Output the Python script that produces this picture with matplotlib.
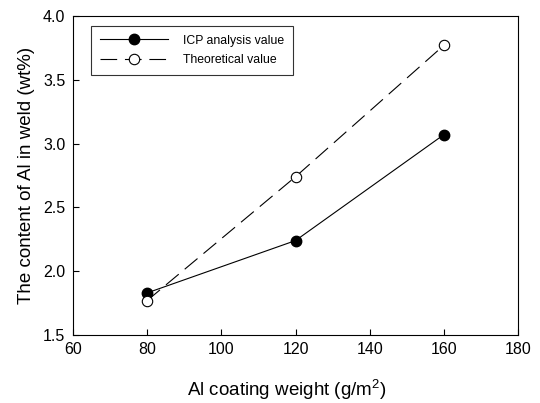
import matplotlib.pyplot as plt

plt.rcParams['font.family'] = ['Liberation Sans', 'DejaVu Sans']
plt.rcParams['mathtext.fontset'] = 'custom'
plt.rcParams['mathtext.rm'] = 'Liberation Sans'

coating_weight = [80, 120, 160]
icp_value = [1.83, 2.24, 3.07]
theoretical_value = [1.77, 2.74, 3.77]

fig = plt.figure(figsize=(5.4, 4.03), dpi=100)
ax = fig.add_axes([73 / 540, 1 - 335 / 403, (518 - 73) / 540, (335 - 16) / 403])

ax.plot(coating_weight, icp_value, color='black', linewidth=0.8, marker='o',
        markersize=7.5, markerfacecolor='black', markeredgecolor='black',
        label='ICP analysis value')
ax.plot(coating_weight, theoretical_value, color='black', linewidth=0.8,
        dashes=(15, 7), marker='o', markersize=7.5, markerfacecolor='white',
        markeredgecolor='black', markeredgewidth=0.8, label='Theoretical value')

ax.set_xlim(60, 180)
ax.set_ylim(1.5, 4.0)
ax.set_xticks([60, 80, 100, 120, 140, 160, 180])
ax.set_yticks([1.5, 2.0, 2.5, 3.0, 3.5, 4.0])
ax.set_yticklabels(['1.5', '2.0', '2.5', '3.0', '3.5', '4.0'])
ax.tick_params(direction='in', length=4, width=0.8, labelsize=11.5)
ax.tick_params(axis='y', pad=5.5)
ax.tick_params(axis='x', pad=5)
for side in ax.spines.values():
    side.set_linewidth(0.8)

ax.set_xlabel('Al coating weight (g/m$^{\\mathrm{2}}$)', fontsize=13.5)
ax.xaxis.set_label_coords((287 - 73) / 445, -0.132)
ax.set_ylabel('The content of Al in weld (wt%)', fontsize=13.5, labelpad=6)

leg = ax.legend(loc='upper left', fontsize=8.8, frameon=True, fancybox=False,
                edgecolor='black', handlelength=5.6, handletextpad=1.2,
                borderpad=0.75, labelspacing=0.6, borderaxespad=0,
                bbox_to_anchor=(0.04, 0.97))
leg.get_frame().set_linewidth(0.8)

plt.savefig('out.png', dpi=100)
